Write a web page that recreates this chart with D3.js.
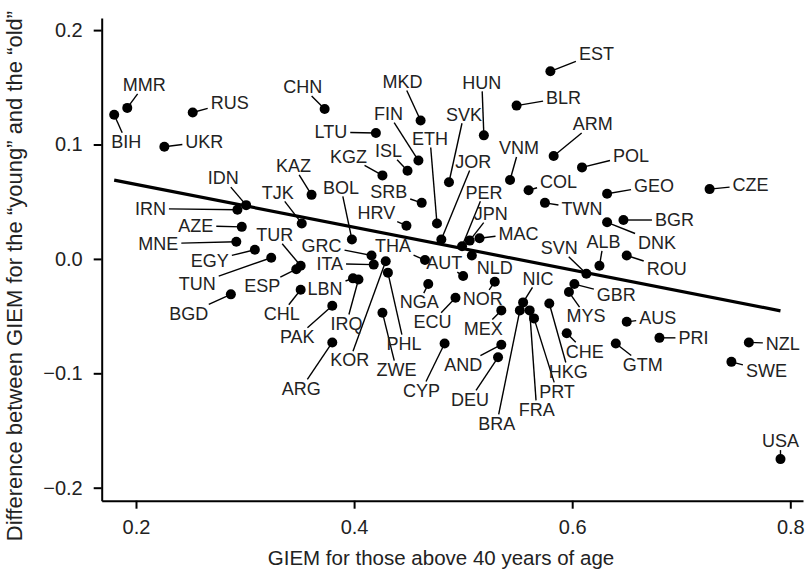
<!DOCTYPE html>
<html>
<head>
<meta charset="utf-8">
<script src="https://cdn.jsdelivr.net/npm/d3@7"></script>
<style>
  body { margin: 0; background: #fff; }
  svg text { font-family: 'Liberation Sans', Arial, Helvetica, sans-serif; fill: #222; }
</style>
</head>
<body>
<svg id="chart"></svg>
<script>
// country codes, in the order of the value arrays below
const countries = ['BIH','MMR','RUS','UKR','CHN','MKD','FIN','LTU','ISL','KGZ','KAZ','EST','HUN','BLR','ARM','VNM','POL','CZE','COL','GEO','TWN','SVK','JOR','ETH','PER','JPN','MAC','NLD','SRB','HRV','BOL','TJK','IDN','IRN','AZE','MNE','EGY','TUN','TUR','ESP','BGD','CHL','GRC','ITA','KOR','PHL','THA','AUT','LBN','IRQ','PAK','NGA','ECU','ZWE','ARG','CYP','AND','DEU','NOR','MEX','NIC','BRA','FRA','PRT','HKG','CHE','GTM','SVN','ALB','GBR','MYS','AUS','BGR','DNK','ROU','PRI','NZL','SWE','USA'];

// GIEM for those above 40 years of age
const giemOld = [0.180,0.192,0.252,0.226,0.373,0.461,0.459,0.420,0.449,0.426,0.361,0.580,0.519,0.549,0.583,0.543,0.609,0.726,0.560,0.632,0.575,0.487,0.480,0.476,0.499,0.506,0.515,0.508,0.462,0.448,0.398,0.352,0.301,0.293,0.297,0.292,0.309,0.324,0.351,0.347,0.287,0.351,0.416,0.418,0.429,0.431,0.465,0.500,0.399,0.404,0.380,0.468,0.493,0.426,0.380,0.483,0.535,0.532,0.529,0.535,0.555,0.552,0.561,0.565,0.579,0.595,0.640,0.613,0.625,0.602,0.597,0.650,0.647,0.632,0.650,0.680,0.762,0.746,0.791];

// difference between GIEM for the young and the old
const giemDiff = [0.126,0.132,0.128,0.098,0.131,0.121,0.086,0.110,0.077,0.073,0.056,0.164,0.108,0.134,0.090,0.069,0.080,0.061,0.060,0.057,0.049,0.067,0.017,0.031,0.011,0.016,0.018,0.003,0.049,0.029,0.017,0.031,0.047,0.043,0.028,0.015,0.008,0.001,-0.006,-0.009,-0.031,-0.027,0.003,-0.005,-0.002,-0.012,-0.001,-0.015,-0.017,-0.018,-0.041,-0.022,-0.034,-0.047,-0.073,-0.074,-0.075,-0.086,-0.020,-0.045,-0.038,-0.045,-0.045,-0.052,-0.039,-0.065,-0.074,-0.013,-0.006,-0.022,-0.029,-0.055,0.034,0.032,0.003,-0.069,-0.073,-0.090,-0.175];

// fitted regression line
const fitIntercept = 0.1025;
const fitSlope = -0.187;

const xTicks = [0.2, 0.4, 0.6, 0.8];
const yTicks = [-0.2, -0.1, 0.0, 0.1, 0.2];

// label placement: offset (px) from the point to the centre of its label
const labelOffset = {
  BIH:[12,27], MMR:[17,-23], RUS:[37,-10], UKR:[40,-5], CHN:[-22,-22], MKD:[-18,-39],
  FIN:[-30,-47], LTU:[-45,-1], ISL:[-19,-20], KGZ:[-34,-19], KAZ:[-18,-29], EST:[46,-18],
  HUN:[-2,-53], BLR:[47,-8], ARM:[39,-32], VNM:[9,-32], POL:[49,-12], CZE:[41,-4],
  COL:[30,-9], GEO:[47,-8], TWN:[37,6], SVK:[15,-68], JOR:[32,-78], ETH:[-7,-85],
  PER:[22,-54], JPN:[21,-27], MAC:[39,-5], NLD:[23,12], SRB:[-33,-11], HRV:[-30,-13],
  BOL:[-11,-52], TJK:[-24,-31], IDN:[-23,-27], IRN:[-87,-1], AZE:[-46,-1], MNE:[-78,2],
  EGY:[-45,11], TUN:[-74,26], TUR:[-26,-31], ESP:[-34,17], BGD:[-42,19], CHL:[-19,24],
  GRC:[-50,-10], ITA:[-44,-1], KOR:[-36,99], PHL:[16,71], THA:[-32,-14], AUT:[-19,-13],
  LBN:[-28,10], IRQ:[-12,44], PAK:[-35,31], NGA:[-9,18], ECU:[-23,24], ZWE:[14,57],
  ARG:[-31,46], CYP:[-23,47], AND:[-38,20], DEU:[-28,42], NOR:[-12,17], MEX:[-18,18],
  NIC:[15,-24], BRA:[-23,113], FRA:[7,99], PRT:[23,73], HKG:[19,68], CHE:[18,18],
  GTM:[27,21], SVN:[-27,-26], ALB:[4,-24], GBR:[42,11], MYS:[17,24], AUS:[31,-4],
  BGR:[51,0], DNK:[50,20], ROU:[40,13], PRI:[34,0], NZL:[34,1], SWE:[35,9], USA:[0,-18]
};

const data = countries.map((c, i) => ({ name: c, x: giemOld[i], y: giemDiff[i] }));

const config = {
  width: 807,
  height: 576,
  left: 101.7,
  right: 803,
  top: 18,
  bottom: 500.7,
};

const svg = d3.select('#chart').attr('width', config.width).attr('height', config.height);

// R style: data range padded by ~4 %
const x = d3.scaleLinear().domain([0.16855, 0.81165]).range([config.left, config.right]);
const y = d3.scaleLinear().domain([-0.21136, 0.21058]).range([config.bottom, config.top]);

const fmt = d3.format('.1f');

// axes
const xAxis = svg.append('g')
  .attr('transform', `translate(0,${config.bottom})`)
  .call(d3.axisBottom(x).tickValues(xTicks).tickFormat(fmt).tickSizeInner(8).tickSizeOuter(0).tickPadding(11));

const yAxis = svg.append('g')
  .attr('transform', `translate(${config.left},0)`)
  .call(d3.axisLeft(y).tickValues(yTicks).tickFormat(fmt).tickSizeInner(8).tickSizeOuter(0).tickPadding(11));

[xAxis, yAxis].forEach(a => {
  a.attr('font-family', null).attr('font-size', 20);
  a.selectAll('path, line').attr('stroke', '#000').attr('stroke-width', 2);
});

// axis titles
svg.append('text')
  .attr('x', 441)
  .attr('y', 565)
  .attr('text-anchor', 'middle')
  .attr('font-size', 20.5)
  .text('GIEM for those above 40 years of age');

svg.append('text')
  .attr('transform', 'translate(22,276) rotate(-90)')
  .attr('text-anchor', 'middle')
  .attr('font-size', 22)
  .text('Difference between GIEM for the \u201cyoung\u201d and the \u201cold\u201d');

// regression line over the range of the data
const xExt = d3.extent(data, d => d.x);
svg.append('line')
  .attr('x1', x(xExt[0]))
  .attr('y1', y(fitIntercept + fitSlope * xExt[0]))
  .attr('x2', x(xExt[1]))
  .attr('y2', y(fitIntercept + fitSlope * xExt[1]))
  .attr('stroke', '#000')
  .attr('stroke-width', 3.2);

const leaders = svg.append('g');
const dots = svg.append('g');
const labels = svg.append('g');

// labels first, so their widths are known for the leader lines
labels.selectAll('text')
  .data(data)
  .join('text')
  .attr('x', d => x(d.x) + labelOffset[d.name][0])
  .attr('y', d => y(d.y) + labelOffset[d.name][1])
  .attr('dy', '0.35em')
  .attr('text-anchor', 'middle')
  .attr('font-size', 18)
  .text(d => d.name)
  .each(function(d) { d.w = this.getComputedTextLength(); });

// leader line from the point to the edge of the label box
data.forEach(d => {
  const px = x(d.x), py = y(d.y);
  const [dx, dy] = labelOffset[d.name];
  const hw = d.w / 2 + 3, hh = 9;
  const t = Math.min(dx ? hw / Math.abs(dx) : Infinity, dy ? hh / Math.abs(dy) : Infinity);
  const len = Math.hypot(dx, dy) * (1 - t);
  if (t >= 1 || len < 7) return;
  leaders.append('line')
    .attr('x1', px)
    .attr('y1', py)
    .attr('x2', px + dx * (1 - t))
    .attr('y2', py + dy * (1 - t))
    .attr('stroke', '#000')
    .attr('stroke-width', 1.4);
});

dots.selectAll('circle')
  .data(data)
  .join('circle')
  .attr('cx', d => x(d.x))
  .attr('cy', d => y(d.y))
  .attr('r', 5)
  .attr('fill', '#000');
</script>
</body>
</html>
